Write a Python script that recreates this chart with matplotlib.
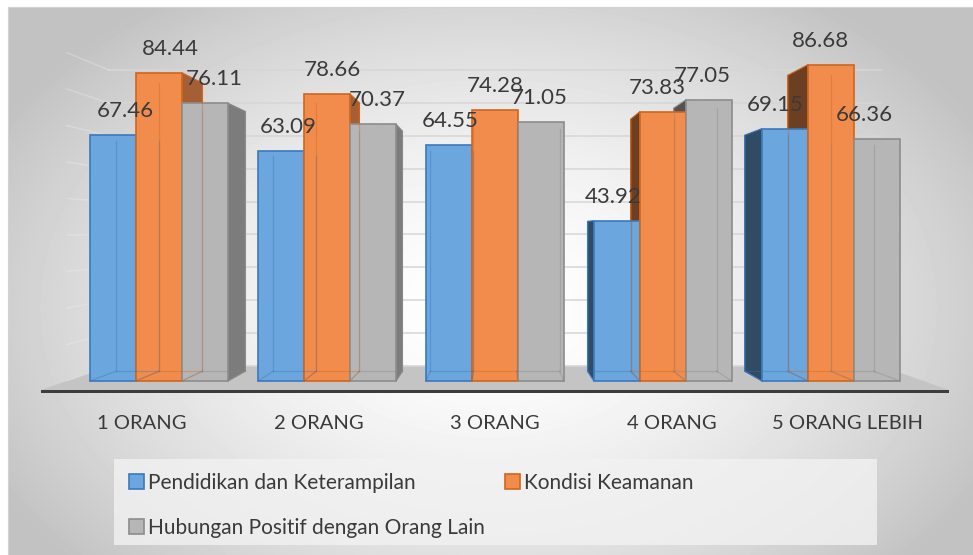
import numpy as np
import matplotlib.pyplot as plt
from matplotlib.patches import Polygon, Rectangle, Patch
from matplotlib.colors import to_rgb

# Data
kategori = ['1 ORANG', '2 ORANG', '3 ORANG', '4 ORANG', '5 ORANG LEBIH']
pendidikan = [67.46, 63.09, 64.55, 43.92, 69.15]
keamanan = [84.44, 78.66, 74.28, 73.83, 86.68]
hubungan = [76.11, 70.37, 71.05, 77.05, 66.36]
nama_seri = ['Pendidikan dan Keterampilan', 'Kondisi Keamanan',
             'Hubungan Positif dengan Orang Lain']

plt.rcParams['font.family'] = ['Lato', 'DejaVu Sans']
warna_teks = '#3a3a3a'

# Warna tiap seri: muka depan, garis tepi
muka = ['#6ba6de', '#f28c4c', '#b6b6b6']
tepi = ['#3b79be', '#d0661c', '#8c8c8c']

# Titik hilang untuk efek perspektif 3D
VX, VY = 2.0, 41.4
DALAM = 0.065   # kedalaman batang
DINDING = 0.10  # kedalaman dinding belakang


def proj(x, v, d):
    return x + d * (VX - x), v + d * (VY - v)


def gelap(c, f):
    r, g, b = to_rgb(c)
    return (r * f, g * f, b * f)


fig = plt.figure(figsize=(9.73, 5.55), dpi=100)

# Latar belakang dengan gradasi radial
bg = fig.add_axes([8 / 973, 0, 1 - 8 / 973, 1 - 7 / 555])
yy, xx = np.mgrid[0:548, 0:965]
r = np.sqrt(((xx - 480) / 560.0) ** 2 + ((yy - 300) / 380.0) ** 2)
nilai = np.clip(1.0 - 0.24 * r ** 1.6, 0.76, 1.0)
bg.imshow(nilai, cmap='gray', vmin=0, vmax=1, aspect='auto',
          interpolation='bilinear')
bg.set_xticks([])
bg.set_yticks([])
for s in ['right', 'bottom']:
    bg.spines[s].set_visible(False)
for s in ['top', 'left']:
    bg.spines[s].set_color('#d2d2d2')

ax = fig.add_axes([0, 0, 1, 1])
ax.patch.set_alpha(0)
ax.set_xlim(-0.946, 4.845)
ax.set_ylim(-47.67, 104.38)
ax.axis('off')

# Lantai
xl, xr = -0.55, 4.55
DEPAN = -0.06
lantai = [proj(xl, 0, DEPAN), proj(xr, 0, DEPAN),
          proj(xr, 0, DINDING), proj(xl, 0, DINDING)]
ax.add_patch(Polygon(lantai, closed=True, fc='#c4c4c4', ec='none', zorder=1))
fl, fr = proj(xl, 0, DEPAN), proj(xr, 0, DEPAN)
ax.add_patch(Polygon([fl, fr, (fr[0], fr[1] - 0.9), (fl[0], fl[1] - 0.9)],
                     closed=True, fc='#3c3c3c', ec='none', zorder=1.5))

# Garis kisi pada dinding belakang dan dinding kiri
for g in range(0, 100, 10):
    a = proj(xl, g, DINDING)
    b = proj(xr, g, DINDING)
    ax.plot([a[0], b[0]], [a[1], b[1]], color='#d6d6d6', lw=1.1, zorder=1.2)
    c = proj(xl, g, 0)
    ax.plot([c[0], a[0]], [c[1], a[1]], color='#eeeeee', lw=1.0,
            alpha=0.35, zorder=1.2)

w = 0.274
seri = [pendidikan, keamanan, hubungan]
posisi = []
for j, vals in enumerate(seri):
    xs = [i - 1.5 * w + j * w for i in range(len(kategori))]
    posisi.append(xs)
    # sisi samping batang
    for x0, v in zip(xs, vals):
        x1 = x0 + w
        if x1 <= VX:
            sisi = [(x1, 0), (x1, v), proj(x1, v, DALAM), proj(x1, 0, DALAM)]
            ax.add_patch(Polygon(sisi, closed=True, fc=gelap(muka[j], 0.68),
                                 ec=tepi[j], lw=0.8, zorder=2))
        if x0 >= VX:
            sisi = [(x0, 0), (x0, v), proj(x0, v, DALAM), proj(x0, 0, DALAM)]
            ax.add_patch(Polygon(sisi, closed=True, fc=gelap(muka[j], 0.45),
                                 ec=tepi[j], lw=0.8, zorder=2))

for j, vals in enumerate(seri):
    ax.bar(posisi[j], vals, width=w, align='edge', color=muka[j],
           edgecolor=tepi[j], linewidth=1.2, zorder=3)
    # garis tepi belakang yang terlihat menembus muka depan
    for x0, v in zip(posisi[j], vals):
        x1 = x0 + w
        b0 = proj(x0, 0, DALAM)
        b1 = proj(x1, 0, DALAM)
        t0 = proj(x0, v, DALAM)
        t1 = proj(x1, v, DALAM)
        kw = dict(color=gelap(tepi[j], 0.95), lw=0.9, alpha=0.35, zorder=3.5)
        ax.plot([b0[0], b1[0]], [b0[1], b1[1]], **kw)
        ax.plot([b0[0], t0[0]], [b0[1], t0[1]], **kw)
        ax.plot([b1[0], t1[0]], [b1[1], t1[1]], **kw)
        ax.plot([x0, b0[0]], [0, b0[1]], **kw)
        ax.plot([x1, b1[0]], [0, b1[1]], **kw)
        # label nilai
        xc = x0 + w / 2
        xc = xc + DALAM / 2 * (VX - xc)
        ax.annotate(f'{v:.2f}', (xc, v), xytext=(0, 24),
                    textcoords='offset pixels', ha='center', va='center',
                    fontsize=16, color=warna_teks, zorder=5)

# Label kategori
for i, k in enumerate(kategori):
    x, _ = proj(i, 0, -0.05)
    ax.text(x, -11.7, k, ha='center', va='center', fontsize=14.5,
            color=warna_teks)

# Legenda
fig.patches.append(Rectangle((114 / 973, 1 - 545 / 555), 763 / 973, 86 / 555,
                             transform=fig.transFigure, fc='#f2f2f2',
                             ec='none', alpha=0.8, zorder=0))
h = [Patch(fc=muka[j], ec=tepi[j], lw=1.2) for j in range(3)]
fig.legend([h[0], h[2], h[1]], [nama_seri[0], nama_seri[2], nama_seri[1]],
           ncol=2, loc='upper left', bbox_to_anchor=(129 / 973, 1 - 473 / 555),
           frameon=False, fontsize=15, handlelength=0.7, handleheight=0.7,
           handletextpad=0.2, columnspacing=1.0, labelspacing=1.2,
           borderpad=0, borderaxespad=0, labelcolor=warna_teks)

fig.savefig('out.png', dpi=100)
